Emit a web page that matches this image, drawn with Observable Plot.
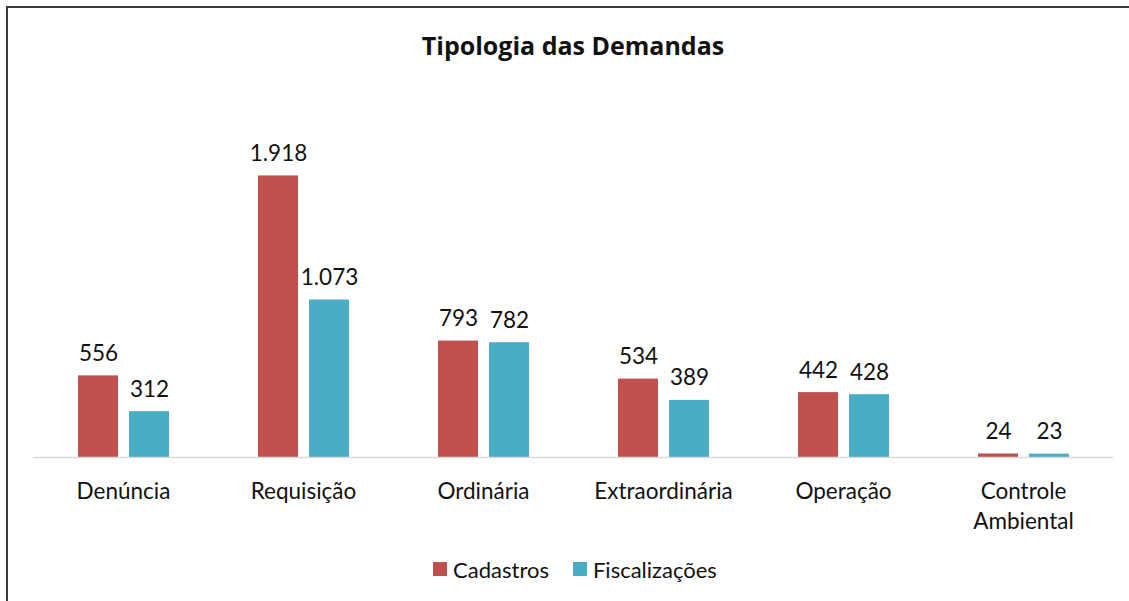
<!DOCTYPE html>
<html>
<head>
<meta charset="utf-8">
<script src="https://cdn.jsdelivr.net/npm/d3@7"></script>
<script src="https://cdn.jsdelivr.net/npm/@observablehq/plot@0.6"></script>
<style>
  html, body { margin: 0; padding: 0; background: #fff; overflow: hidden; }
  body { width: 1129px; height: 601px; position: relative; font-family: Lato, "Open Sans", sans-serif; color: #111; }
  #frame { position: absolute; left: 6px; top: 6px; width: 1123px; height: 595px; border-top: 2px solid #3a3a3a; border-left: 2px solid #3a3a3a; box-sizing: border-box; }
  #title { position: absolute; left: 0; top: 0; width: 1129px; padding-left: 17px; box-sizing: border-box; height: 90px; line-height: 90px; text-align: center; font-weight: bold; font-size: 25px; font-family: "Open Sans", Lato, sans-serif; }
  #chart { position: absolute; left: 0; top: 90px; width: 1129px; overflow: hidden; }
  #legend { position: absolute; left: 0; top: 554px; width: 1129px; padding-left: 21px; box-sizing: border-box; text-align: center; font-size: 22px; }
  .item { display: inline-flex; align-items: center; margin: 0 12px; }
  .sw { width: 14px; height: 14px; display: inline-block; margin-right: 6px; }
</style>
</head>
<body>
<div id="frame"></div>
<div id="title">Tipologia das Demandas</div>
<div id="chart"></div>
<div id="legend"></div>
<script>
const categories = ["Denúncia", "Requisição", "Ordinária", "Extraordinária", "Operação", "Controle Ambiental"];
const categoryLabels = ["Denúncia", "Requisição", "Ordinária", "Extraordinária", "Operação", "Controle\nAmbiental"];
const seriesNames = ["Cadastros", "Fiscalizações"];
const cadastros = [556, 1918, 793, 534, 442, 24];
const fiscalizacoes = [312, 1073, 782, 389, 428, 23];
const seriesColors = ["#C0504D", "#4BACC6"];

const data = [];
categories.forEach((c, i) => {
  data.push({category: c, series: seriesNames[0], value: cadastros[i]});
  data.push({category: c, series: seriesNames[1], value: fiscalizacoes[i]});
});
const labelData = categories.map((c, i) => ({category: c, label: categoryLabels[i]}));

const fmt = d3.formatLocale({decimal: ",", thousands: ".", grouping: [3], currency: ["", ""]}).format(",d");

const chart = Plot.plot({
  width: 1129,
  height: 455,
  marginTop: 0,
  marginBottom: 88,
  marginLeft: 33,
  marginRight: 16,
  style: {fontFamily: "Lato, 'Open Sans', sans-serif", fontSize: "22px", color: "#111", background: "transparent", overflow: "visible"},
  fx: {domain: categories, padding: 0, axis: null},
  x: {domain: seriesNames, paddingInner: 0.2157, paddingOuter: 0.8725, axis: null},
  y: {domain: [0, 2500], axis: null},
  color: {domain: seriesNames, range: seriesColors},
  marks: [
    Plot.barY(data, {fx: "category", x: "series", y: "value", fill: "series"}),
    Plot.ruleY([0], {stroke: "#D9D9D9", strokeWidth: 1.5}),
    Plot.text(data, {fx: "category", x: "series", y: "value", text: d => fmt(d.value), lineAnchor: "bottom", dy: -15, fill: "#111", fontSize: 22.5}),
    Plot.text(labelData, {fx: "category", y: () => 0, text: "label", lineAnchor: "top", dy: 21, lineHeight: 1.3, fill: "#111", fontSize: 22.5})
  ]
});
document.getElementById("chart").appendChild(chart);

const legend = document.getElementById("legend");
seriesNames.forEach((s, i) => {
  const it = document.createElement("span");
  it.className = "item";
  const sw = document.createElement("span");
  sw.className = "sw";
  sw.style.background = seriesColors[i];
  it.appendChild(sw);
  it.appendChild(document.createTextNode(s));
  legend.appendChild(it);
});
</script>
</body>
</html>
